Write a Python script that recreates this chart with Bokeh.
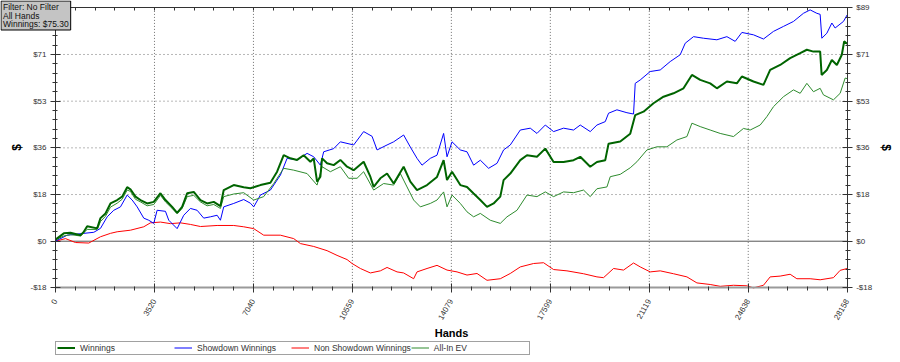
import math
import numpy as np
from bokeh.plotting import figure
from bokeh.models import (LinearAxis, FixedTicker, CustomJSTickFormatter, Range1d,
                          Legend, LegendItem, Label)
from bokeh.embed import file_html
from bokeh.resources import INLINE

# ---------------- data ----------------
x_ticks = [0, 3520, 7040, 10559, 14079, 17599, 21119, 24638, 28158]
y_ticks = [-17.8, 0, 17.8, 35.6, 53.4, 71.2, 89.0]

win_hands = [0, 295, 533, 889, 995, 1127, 1482, 1600, 1778, 1955, 2193, 2371, 2549, 2666, 2844,
             3022, 3260, 3495, 3733, 3911, 4149, 4326, 4504, 4682, 4917, 5155, 5393, 5628, 5866,
             5983, 6339, 6694, 6932, 7288, 7643, 7881, 8116, 8354, 8593, 8827, 9065, 9183, 9303,
             9421, 9481, 9659, 9894, 10132, 10370, 10605, 10960, 11198, 11316, 11554, 11792,
             12027, 12382, 12620, 12858, 13214, 13569, 13804, 13925, 14103, 14398, 14636, 14871,
             15109, 15347, 15582, 15820, 15937, 16175, 16531, 16769, 17124, 17420, 17715, 18070,
             18426, 18664, 19019, 19257, 19553, 19670, 20086, 20441, 20619, 20914, 21269, 21625,
             21981, 22336, 22635, 22930, 23285, 23523, 23879, 24234, 24412, 24825, 25180, 25418,
             25774, 26129, 26485, 26723, 26958, 27196, 27249, 27434, 27612, 27790, 27967, 28050,
             28158]
win_vals = [0.6, 3, 3.2, 2.3, 3.4, 5.7, 4.9, 8.8, 10.6, 14.4, 15.7, 17, 20.6, 19.8, 17,
            15.7, 14.4, 15, 18.3, 15.7, 13.1, 10.8, 13.1, 18.3, 18.8, 15.7, 14.4, 15, 13.4,
            19.5, 21.4, 20.6, 20.2, 21.4, 22.3, 26.5, 32.8, 31.6, 31, 32.8, 30.3, 31.6, 22.7,
            24.6, 31.6, 29.7, 29, 31, 28.4, 27.1, 30.3, 24.6, 20.7, 24, 25.8,
            22, 28.4, 22.7, 19.5, 21.4, 24.5, 30.9, 23.3, 26.5, 21.4, 20.7, 18.2,
            15.7, 13.1, 14.4, 17, 23.3, 25.8, 30.9, 32.8, 32.2, 35.3, 30.2, 30.2,
            30.9, 32.2, 28.4, 30.2, 30.9, 37.2, 38, 41, 48.1, 49.4, 52.6, 55.1,
            56.4, 58.3, 63.4, 61.5, 60.2, 58.3, 60.9, 60.2, 62.8, 60.9, 59.6, 65.3,
            67.2, 69.8, 71.7, 73, 72.3, 72.3, 63.4, 65.3, 69.1, 67.2, 71.1, 76.2,
            75.3]

sd_hands = [0, 416, 1006, 1362, 1600, 1838, 2073, 2311, 2549, 2727, 2905, 3139, 3317, 3495,
            3615, 3911, 4028, 4326, 4561, 4799, 5037, 5272, 5510, 5748, 5866, 5983, 6339, 6694,
            6932, 7050, 7288, 7643, 7999, 8237, 8593, 8948, 9183, 9421, 9538, 9894, 10132,
            10605, 10960, 11259, 11437, 11792, 12027, 12382, 12620, 12858, 13036, 13331, 13569,
            13804, 13925, 14103, 14398, 14636, 14871, 15109, 15404, 15703, 15937, 16175, 16531,
            16886, 17124, 17420, 17715, 18070, 18426, 18664, 19019, 19257, 19553, 19670, 19968,
            20324, 20559, 20619, 20797, 21152, 21508, 21863, 22219, 22397, 22692, 23047, 23523,
            23879, 24174, 24412, 24825, 25180, 25536, 25891, 26247, 26602, 26840, 27078, 27196,
            27256, 27434, 27612, 27729, 28025, 28158]
sd_vals = [0, 2.3, 3, 3.4, 4.9, 9.3, 11.8, 13.1, 17.6, 15.7, 13.1, 8.8, 8, 6.8,
           11.8, 11.4, 8, 4.8, 9.9, 12.5, 11.8, 8.8, 9.3, 9.9, 8, 13.1, 14.4, 15.9,
           14.5, 13.1, 17.6, 19.5, 25.2, 31.6, 31, 33.5, 32.2, 29, 34.1, 35.3, 37.9,
           36.7, 41.8, 40, 34.8, 36.7, 37.9, 40.5, 35.9, 31.6, 29, 31.6, 32.8,
           41.1, 32.2, 37.9, 34.8, 34.1, 29, 30.9, 27.8, 29.7, 34.8, 36.7, 42.4,
           43.1, 41.1, 44.3, 41.8, 43.1, 42.4, 44.3, 41.8, 44.3, 45.6, 48.8, 50.1,
           49, 48.5, 60.2, 61.5, 64.7, 65.3, 68.5, 71.1, 75.5, 78, 77.4, 76.8,
           78, 76.2, 79.6, 78.7, 77.1, 80, 81.9, 83.8, 86.9, 88.2, 86.9, 86.5,
           77.4, 79.3, 83.2, 81.3, 83.8, 86.3]

nsd_hands = [0, 356, 711, 1184, 1305, 1600, 1955, 2193, 2666, 3139, 3377, 3733, 4088, 4444,
             4799, 5155, 5748, 6339, 6694, 7050, 7405, 7999, 8472, 8710, 9183, 9659, 10014,
             10370, 10548, 10843, 11198, 11554, 11792, 12148, 12382, 12738, 12858, 13214, 13569,
             13925, 14281, 14636, 14992, 15347, 15820, 16175, 16531, 17004, 17359, 17715, 18191,
             18781, 19257, 19492, 19848, 20203, 20559, 20797, 21152, 21508, 21981, 22457, 22813,
             23285, 23641, 24114, 24590, 24825, 25180, 25418, 25774, 26129, 26367, 26840, 27196,
             27669, 27907, 28158]
nsd_vals = [0, 1, -0.5, -0.7, 0, 1.7, 3, 3.6, 4.2, 5.5, 7, 7.3, 6.7, 7,
            6.4, 5.6, 6, 6, 5.5, 4.8, 2.3, 2.3, 1, -0.9, -2, -3.6, -5.4,
            -7, -8.5, -10.4, -12.1, -11.3, -10, -11.7, -12.1, -14.3, -11.7, -10.4, -9.2,
            -11, -11.7, -12.9, -12.3, -14.9, -14.3, -12.3, -9.8, -8.5, -8.2, -10.8, -11.3,
            -12.4, -13.6, -13.9, -10.4, -11, -8.3, -9.8, -11.7, -11.3, -12.4, -13.6, -15.9,
            -16.5, -17.2, -16.8, -17, -17.8, -16.8, -13.6, -13.3, -12.6, -14.3, -14.3, -14.7,
            -13.9, -11.1, -10.4]

ev_hands = [0, 295, 533, 889, 1127, 1482, 1600, 1778, 1955, 2193, 2371, 2549, 2666, 2844,
            3022, 3260, 3495, 3733, 3911, 4149, 4326, 4504, 4682, 4917, 5155, 5393, 5628, 5866,
            5983, 6339, 6694, 7050, 7405, 7761, 8116, 8472, 8948, 9303, 9481, 9776, 10132,
            10427, 10725, 10960, 11316, 11672, 12027, 12265, 12503, 12738, 12976, 13331, 13569,
            13804, 13925, 14103, 14398, 14636, 14871, 15109, 15464, 15820, 16058, 16413, 16769,
            17124, 17420, 17715, 18070, 18426, 18781, 19019, 19257, 19613, 19730, 20086, 20441,
            20679, 21035, 21390, 21745, 22101, 22457, 22635, 22930, 23285, 23641, 24114, 24469,
            24707, 25063, 25301, 25536, 25891, 26247, 26485, 26723, 26958, 27196, 27313, 27669,
            27907, 28085, 28158]
ev_vals = [0.5, 2, 2.5, 2, 4.5, 4.5, 7.5, 9.5, 13, 14.5, 16, 19.5, 19, 16,
           15, 13.5, 14, 17.5, 15, 12.5, 10.5, 12.5, 17, 17.5, 15, 13.5, 14, 12.5,
           17, 18, 18.5, 15.7, 17, 22, 27.8, 27.1, 25.8, 21.4, 28.4, 26.5, 28.4,
           24, 24, 26.5, 19.5, 22, 21.4, 25.8, 20.7, 15.7, 13.1, 14.4, 15.7,
           18.8, 13.1, 17.6, 14.4, 11.2, 9.3, 10.6, 8, 6.8, 9.3, 11.8, 17.6,
           17, 18.8, 17, 18.8, 18.5, 19.5, 17, 20, 20.7, 24.6, 25.5, 28,
           30.3, 34.8, 36, 36, 38.6, 39.9, 45, 43.7, 42.4, 41.1, 39.9, 43,
           42.4, 44.3, 47.5, 51.3, 55.1, 57.7, 56.4, 60.2, 57, 58.3, 55.8, 53.9,
           56.4, 62.2, 62]

series_names = ["Winnings", "Showdown Winnings", "Non Showdown Winnings", "All-In EV"]
info_lines = ["Filter: No Filter", "All Hands", "Winnings: $75.30"]

# ---------------- layout (canvas pixels) ----------------
CANVAS_W, CANVAS_H = 900, 362
PLOT_L, PLOT_R = 55.0, 846.7      # where the first / last x tick sit
PLOT_T, PLOT_B = 7.3, 287.4       # where the top / bottom y tick sit

x_lo, x_hi = x_ticks[0], x_ticks[-1]
y_lo, y_hi = y_ticks[0], y_ticks[-1]
hpp = (x_hi - x_lo) / (PLOT_R - PLOT_L)
dpp = (y_hi - y_lo) / (PLOT_B - PLOT_T)
x_range = Range1d(x_lo - PLOT_L * hpp, x_hi + (CANVAS_W - PLOT_R) * hpp)
y_range = Range1d(y_lo - (CANVAS_H - PLOT_B) * dpp, y_hi + PLOT_T * dpp)

FONT = "Liberation Sans"
p = figure(width=CANVAS_W, height=CANVAS_H, output_backend="svg", toolbar_location=None,
           x_range=x_range, y_range=y_range,
           min_border_left=0, min_border_right=0, min_border_top=0, min_border_bottom=0)
p.min_border = 0
p.background_fill_color = "white"
p.border_fill_color = "white"
p.outline_line_color = None
p.grid.visible = False

x_minor = np.arange(x_lo, x_hi + 1, (x_hi - x_lo) / 40).tolist()
y_minor = np.arange(y_lo, y_hi + 0.05, (y_hi - y_lo) / 30).tolist()

# grid lines (dotted) and the zero line
vg = x_ticks[1:-1]
p.segment(x0=vg, x1=vg, y0=[y_lo] * len(vg), y1=[y_hi] * len(vg),
          line_color="#707070", line_width=1, line_dash="1 2")
hg = [t for t in y_ticks if 0 < t < y_hi]
p.segment(x0=[x_lo] * len(hg), x1=[x_hi] * len(hg), y0=hg, y1=hg,
          line_color="#707070", line_width=1, line_dash="1 3")
p.segment(x0=[x_lo], x1=[x_hi], y0=[0], y1=[0], line_color="#555555", line_width=1)

# x axis (bottom)
xa = p.xaxis[0]
xa.fixed_location = y_lo
xa.bounds = (x_lo, x_hi)
xa.ticker = FixedTicker(ticks=x_ticks, minor_ticks=x_minor)
xa.major_label_overrides = {t: str(t) for t in x_ticks}
xa.major_label_orientation = math.radians(60)
xa.major_label_text_font = FONT
xa.major_label_text_font_size = "8px"
xa.major_label_text_color = "#333333"
xa.major_label_standoff = 7
xa.axis_line_color = "#9a9a9a"
xa.axis_line_width = 2
xa.major_tick_in = 4
xa.major_tick_out = 5
xa.minor_tick_in = 1
xa.minor_tick_out = 3
xa.major_tick_line_color = "#333333"
xa.minor_tick_line_color = "#333333"
xa.axis_label = "Hands"
xa.axis_label_text_font = FONT
xa.axis_label_text_font_style = "bold"
xa.axis_label_text_font_size = "11px"
xa.axis_label_text_color = "black"
xa.axis_label_standoff = 3

yfmt = CustomJSTickFormatter(code="""
    const v = Math.round(Math.abs(tick));
    return (tick < -0.001 ? "-$" : "$") + v.toString();
""")


def style_y(ax, loc):
    ax.fixed_location = loc
    ax.bounds = (y_lo, y_hi)
    ax.ticker = FixedTicker(ticks=y_ticks, minor_ticks=y_minor)
    ax.formatter = yfmt
    ax.major_label_text_font = FONT
    ax.major_label_text_font_size = "8px"
    ax.major_label_text_color = "#333333"
    ax.major_label_standoff = 4
    ax.axis_line_color = "#333333"
    ax.major_tick_in = 5
    ax.major_tick_out = 5
    ax.minor_tick_in = 2
    ax.minor_tick_out = 3
    ax.major_tick_line_color = "#333333"
    ax.minor_tick_line_color = "#333333"
    ax.axis_label = "$"
    ax.axis_label_text_font = FONT
    ax.axis_label_text_font_style = "bold"
    ax.axis_label_text_font_size = "12px"
    ax.axis_label_text_color = "black"
    ax.axis_label_standoff = 3


style_y(p.yaxis[0], x_lo)
ra = LinearAxis()
style_y(ra, x_hi)
p.add_layout(ra, "right")

ta = LinearAxis(ticker=FixedTicker(ticks=[], minor_ticks=x_minor))
ta.fixed_location = y_hi
ta.bounds = (x_lo, x_hi)
ta.major_label_text_font_size = "0px"
ta.major_tick_in = 0
ta.major_tick_out = 0
ta.minor_tick_in = 3
ta.minor_tick_out = 0
ta.minor_tick_line_color = "#333333"
ta.axis_line_color = "#333333"
p.add_layout(ta, "above")

# lines
r_nsd = p.line(nsd_hands, nsd_vals, line_color="#ff0000", line_width=1)
r_sd = p.line(sd_hands, sd_vals, line_color="#0000ff", line_width=1)
r_ev = p.line(ev_hands, ev_vals, line_color="#2e8b2e", line_width=1)
r_win = p.line(win_hands, win_vals, line_color="#006400", line_width=2)

legend = Legend(items=[LegendItem(label=series_names[0], renderers=[r_win]),
                       LegendItem(label=series_names[1], renderers=[r_sd]),
                       LegendItem(label=series_names[2], renderers=[r_nsd]),
                       LegendItem(label=series_names[3], renderers=[r_ev])],
                orientation="horizontal", location=(PLOT_L, 7.4))
legend.label_text_font = FONT
legend.label_text_font_size = "8.5px"
legend.label_text_color = "#333333"
legend.glyph_width = 18
legend.glyph_height = 9
legend.label_height = 9
legend.label_width = 94
legend.label_standoff = 5
legend.padding = 1
legend.spacing = 0
legend.margin = 0
legend.border_line_color = "#444444"
legend.border_line_width = 1
legend.background_fill_color = "white"
legend.background_fill_alpha = 1
p.add_layout(legend)

info = Label(x=0.5, y=CANVAS_H - 0.5, x_units="screen", y_units="screen",
             text="\n".join(info_lines), text_font=FONT, text_font_size="8.5px",
             text_color="#111111", text_align="left", text_baseline="top",
             text_line_height=0.85,
             background_fill_color="#c4c4c4", border_line_color="black",
             border_line_width=1, padding=(2, 1))
p.add_layout(info)

open("out.html", "w").write(file_html(p, INLINE))
